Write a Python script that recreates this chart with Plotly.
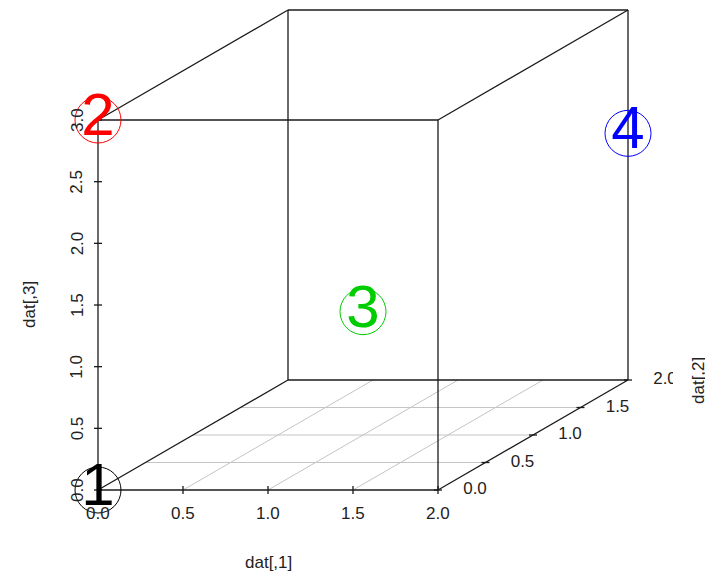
import plotly.graph_objects as go

# points (dat[,1], dat[,2], dat[,3])
dat_x = [0, 0, 1, 2]
dat_y = [0, 0, 1, 2]
dat_z = [0, 3, 1, 2]
point_labels = ["1", "2", "3", "4"]
point_colors = ["black", "red", "#00CD00", "blue"]

x_ticks = [0, 0.5, 1.0, 1.5, 2.0]
y_ticks = [0, 0.5, 1.0, 1.5, 2.0]
z_ticks = [0, 0.5, 1.0, 1.5, 2.0, 2.5, 3.0]
x_tick_text = ["0.0", "0.5", "1.0", "1.5", "2.0"]
y_tick_text = ["0.0", "0.5", "1.0", "1.5", "2.0"]
z_tick_text = ["0.0", "0.5", "1.0", "1.5", "2.0", "2.5", "3.0"]

x_lim = [0, 2]
y_lim = [0, 2]
z_lim = [0, 3]

# scatterplot3d-like oblique projection (y axis goes back and up)
YX = 95 / 170
YZ = 55 / 123.33
PX = 170.0      # pixels per x unit
PZ = 123.33     # pixels per z unit
OFF = 8         # page body margin
W, H = 713, 574


def proj(x, y, z):
    return x + y * YX, z + y * YZ


FONT = "Liberation Sans, Arial, sans-serif"
TXT = "#222222"
LINE = "#1a1a1a"
fig = go.Figure()


def segment(p0, p1, color, width=1.0):
    a = proj(*p0)
    b = proj(*p1)
    fig.add_trace(go.Scatter(x=[a[0], b[0]], y=[a[1], b[1]], mode="lines",
                             line=dict(color=color, width=width),
                             hoverinfo="skip", showlegend=False))


# grid on the bottom plane
for gx in x_ticks[1:-1]:
    segment((gx, y_lim[0], z_lim[0]), (gx, y_lim[1], z_lim[0]), "#c4c4c4")
for gy in y_ticks[1:-1]:
    segment((x_lim[0], gy, z_lim[0]), (x_lim[1], gy, z_lim[0]), "#c4c4c4")

# box edges
x0, x1 = x_lim
y0, y1 = y_lim
z0, z1 = z_lim
edges = [
    ((x0, y0, z0), (x1, y0, z0)), ((x0, y0, z1), (x1, y0, z1)),
    ((x0, y0, z0), (x0, y0, z1)), ((x1, y0, z0), (x1, y0, z1)),
    ((x0, y1, z0), (x1, y1, z0)), ((x0, y1, z1), (x1, y1, z1)),
    ((x0, y1, z0), (x0, y1, z1)), ((x1, y1, z0), (x1, y1, z1)),
    ((x0, y0, z0), (x0, y1, z0)), ((x1, y0, z0), (x1, y1, z0)),
    ((x0, y0, z1), (x0, y1, z1)), ((x1, y0, z1), (x1, y1, z1)),
]
for a, b in edges:
    segment(a, b, LINE, 1.3)

# tick marks
tx, tz = 4 / PX, 4 / PZ
for t in x_ticks:
    px, pz = proj(t, y0, z0)
    fig.add_trace(go.Scatter(x=[px, px], y=[pz - tz, pz + tz], mode="lines",
                             line=dict(color=LINE, width=1.3), hoverinfo="skip", showlegend=False))
for t in z_ticks:
    px, pz = proj(x0, y0, t)
    fig.add_trace(go.Scatter(x=[px - tx, px + tx], y=[pz, pz], mode="lines",
                             line=dict(color=LINE, width=1.3), hoverinfo="skip", showlegend=False))
for t in y_ticks:
    px, pz = proj(x1, t, z0)
    fig.add_trace(go.Scatter(x=[px - tx, px + tx], y=[pz, pz], mode="lines",
                             line=dict(color=LINE, width=1.3), hoverinfo="skip", showlegend=False))

# y tick labels as text (so that the last one can be clipped at the edge)
ylab = [proj(x1, t, z0) for t in y_ticks]
fig.add_trace(go.Scatter(x=[p[0] + 37 / PX for p in ylab], y=[p[1] for p in ylab],
                         mode="text", text=y_tick_text,
                         textfont=dict(family=FONT, size=17, color=TXT),
                         hoverinfo="skip", showlegend=False))

# points
pp = [proj(a, b, c) for a, b, c in zip(dat_x, dat_y, dat_z)]
fig.add_trace(go.Scatter(x=[p[0] for p in pp], y=[p[1] for p in pp], mode="markers+text",
                         text=point_labels, textposition="middle center",
                         marker=dict(symbol="circle-open", size=46,
                                     line=dict(width=1, color=point_colors), color=point_colors),
                         textfont=dict(family=FONT, size=60, color=point_colors),
                         hoverinfo="skip", showlegend=False))

annotations = []
for t, s in zip(x_ticks, x_tick_text):
    px, pz = proj(t, y0, z0)
    annotations.append(dict(x=px, y=pz, text=s, showarrow=False, yshift=-23,
                            font=dict(family=FONT, size=17, color=TXT)))
for t, s in zip(z_ticks, z_tick_text):
    px, pz = proj(x0, y0, t)
    annotations.append(dict(x=px, y=pz, text=s, showarrow=False, xshift=-21, textangle=-90,
                            font=dict(family=FONT, size=17, color=TXT)))

# axis titles, positioned in window pixels
titles = [("dat[,1]", 268, 562, 0), ("dat[,3]", 29, 305, -90), ("dat[,2]", 698, 381, -90)]
for s, wx, wy, ang in titles:
    annotations.append(dict(x=(wx - OFF) / W, y=1 - (wy - OFF) / H, xref="paper", yref="paper",
                            xanchor="center", yanchor="middle", text=s, textangle=ang,
                            showarrow=False, font=dict(family=FONT, size=17, color=TXT)))

# white block that clips the "2.0" label at the right edge like the original
clip = proj(x1, y1, z0)
fig.add_shape(type="rect", layer="above", xref="x", yref="y",
              x0=clip[0] + 45 / PX, x1=clip[0] + 60 / PX,
              y0=clip[1] - 12 / PZ, y1=clip[1] + 12 / PZ,
              fillcolor="white", line=dict(width=0))

fig.update_layout(
    width=W, height=H,
    margin=dict(l=0, r=0, t=0, b=0),
    plot_bgcolor="white", paper_bgcolor="white",
    xaxis=dict(range=[-(98 - OFF) / PX, (W - 98 + OFF) / PX], visible=False, fixedrange=True),
    yaxis=dict(range=[-(H - 490 + OFF) / PZ, (490 - OFF) / PZ], visible=False, fixedrange=True),
    annotations=annotations,
    showlegend=False,
)

fig.write_html("out.html")
